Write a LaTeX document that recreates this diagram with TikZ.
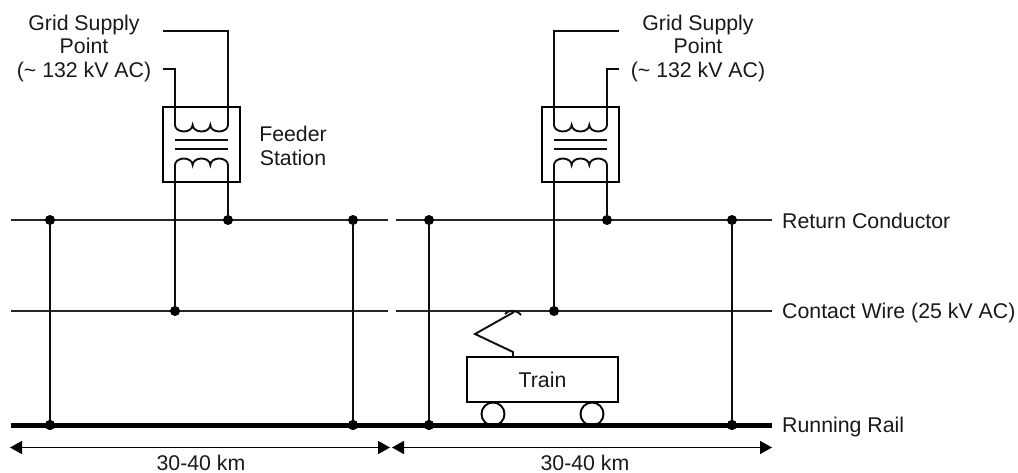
\documentclass[tikz,border=0pt]{standalone}
\usepackage{fontspec}
\setmainfont{Liberation Sans}
\usetikzlibrary{arrows.meta}
\tikzset{
  x=1pt,y=-1pt,
  wire/.style={draw=black!95,line width=1.9pt},
  thin wire/.style={draw=black!85,line width=1.5pt},
  rail/.style={draw=black,line width=5pt},
  dot/.style={circle,fill=black,inner sep=0pt,minimum size=10pt},
  lbl/.style={font=\fontsize{21.3}{23.5}\selectfont,text=black!90,inner sep=0pt},
  dim/.style={draw=black,line width=1.5pt,{Triangle[length=12pt,width=13pt]}-{Triangle[length=12pt,width=13pt]}},
  coilbox/.style={draw=black,line width=1.9pt,fill=none},
  wheel/.style={circle,draw=black,line width=1.9pt,fill=white,inner sep=0pt,minimum size=23pt},
  tbox/.style={draw=black,line width=1.9pt,fill=white,minimum width=151pt,minimum height=45pt,inner sep=0pt}
}
\newcommand{\xfmr}[2]{% #1 left lead x, #2 right lead x
  \draw[coilbox] (#1-12,107) rectangle (#2+12,182);
  \draw[wire] (#1,140) -- (#2,140);
  \draw[wire] (#1,149) -- (#2,149);
  \draw[wire] (#1,125) arc[start angle=180,end angle=360,x radius=8.83,y radius=-6.5] arc[start angle=180,end angle=360,x radius=8.83,y radius=-6.5] arc[start angle=180,end angle=360,x radius=8.83,y radius=-6.5];
  \draw[wire] (#1,165) arc[start angle=180,end angle=360,x radius=8.83,y radius=6.5] arc[start angle=180,end angle=360,x radius=8.83,y radius=6.5] arc[start angle=180,end angle=360,x radius=8.83,y radius=6.5];
}
\begin{document}
\begin{tikzpicture}
\useasboundingbox (0,0) rectangle (1018,473);
% texts
\node[lbl,align=center] (gsp1) at (84,48) {Grid Supply\\Point\\(\textasciitilde{} 132 kV AC)};
\node[lbl,align=center] (gsp2) at (698,48) {Grid Supply\\Point\\(\textasciitilde{} 132 kV AC)};
\node[lbl,align=center] (fs) at (293,146) {Feeder\\Station};
\node[lbl,anchor=west] (rc) at (782,221) {Return Conductor};
\node[lbl,anchor=west] (cw) at (782,313) {Contact Wire (25 kV AC)};
\node[lbl,anchor=west] (rr) at (782,427) {Running Rail};
\node[lbl] (d1) at (201,462.5) {30-40 km};
\node[lbl] (d2) at (585,462.5) {30-40 km};
% lines
\coordinate (rcL1) at (11,220); \coordinate (rcR1) at (388,220);
\coordinate (rcL2) at (396,220); \coordinate (rcR2) at (772,220);
\coordinate (cwL1) at (11,311); \coordinate (cwR1) at (388,311);
\coordinate (cwL2) at (396,311); \coordinate (cwR2) at (772,311);
\coordinate (rrL) at (11,425); \coordinate (rrR) at (772,425);
\draw[thin wire] (rcL1) -- (rcR1);
\draw[thin wire] (rcL2) -- (rcR2);
\draw[thin wire] (cwL1) -- (cwR1);
\draw[thin wire] (cwL2) -- (cwR2);
% verticals
\foreach \n/\x in {a/50,b/353,c/429,d/732}{
  \node[dot] (top\n) at (\x,220) {};
  \node[dot] (bot\n) at (\x,425) {};
  \draw[wire] (top\n.center) -- (bot\n.center);
}
% transformers
\xfmr{175}{228}
\xfmr{554}{607}
\node[dot] (j1) at (175,311) {};
\node[dot] (j2) at (228,220) {};
\node[dot] (j3) at (554,311) {};
\node[dot] (j4) at (607,220) {};
\coordinate (c1) at (175,165); \coordinate (c2) at (228,165);
\coordinate (c3) at (554,165); \coordinate (c4) at (607,165);
\draw[wire] (c1) -- (j1.center);
\draw[wire] (c2) -- (j2.center);
\draw[wire] (c3) -- (j3.center);
\draw[wire] (c4) -- (j4.center);
\coordinate (u1) at (175,125); \coordinate (u2) at (228,125);
\coordinate (u3) at (554,125); \coordinate (u4) at (607,125);
\draw[wire] (163,69) -- (175,69) -- (u1);
\draw[wire] (163,31) -- (228,31) -- (u2);
\draw[wire] (619,31) -- (554,31) -- (u3);
\draw[wire] (619,69) -- (607,69) -- (u4);
% train
\node[tbox] (train) at (542.5,379.5) {};
\node[lbl] at (train) {Train};
\node[wheel] (w1) at (493,414) {};
\node[wheel] (w2) at (592,414) {};
\draw[rail] (rrL) -- (rrR);
\foreach \x in {50,353,429,732}{\node[dot] at (\x,425) {};}
\draw[wire] (513,357) -- (513,352) -- (475,334) -- (514,312);
\draw[wire] (505,314) .. controls (508,310) and (516,309) .. (521,315);
% dimension
\coordinate (da) at (10,447.5); \coordinate (db) at (390,447.5);
\coordinate (dc) at (392,447.5); \coordinate (dd) at (772,447.5);
\draw[dim] (da) -- (db);
\draw[dim] (dc) -- (dd);
\end{tikzpicture}
\end{document}
